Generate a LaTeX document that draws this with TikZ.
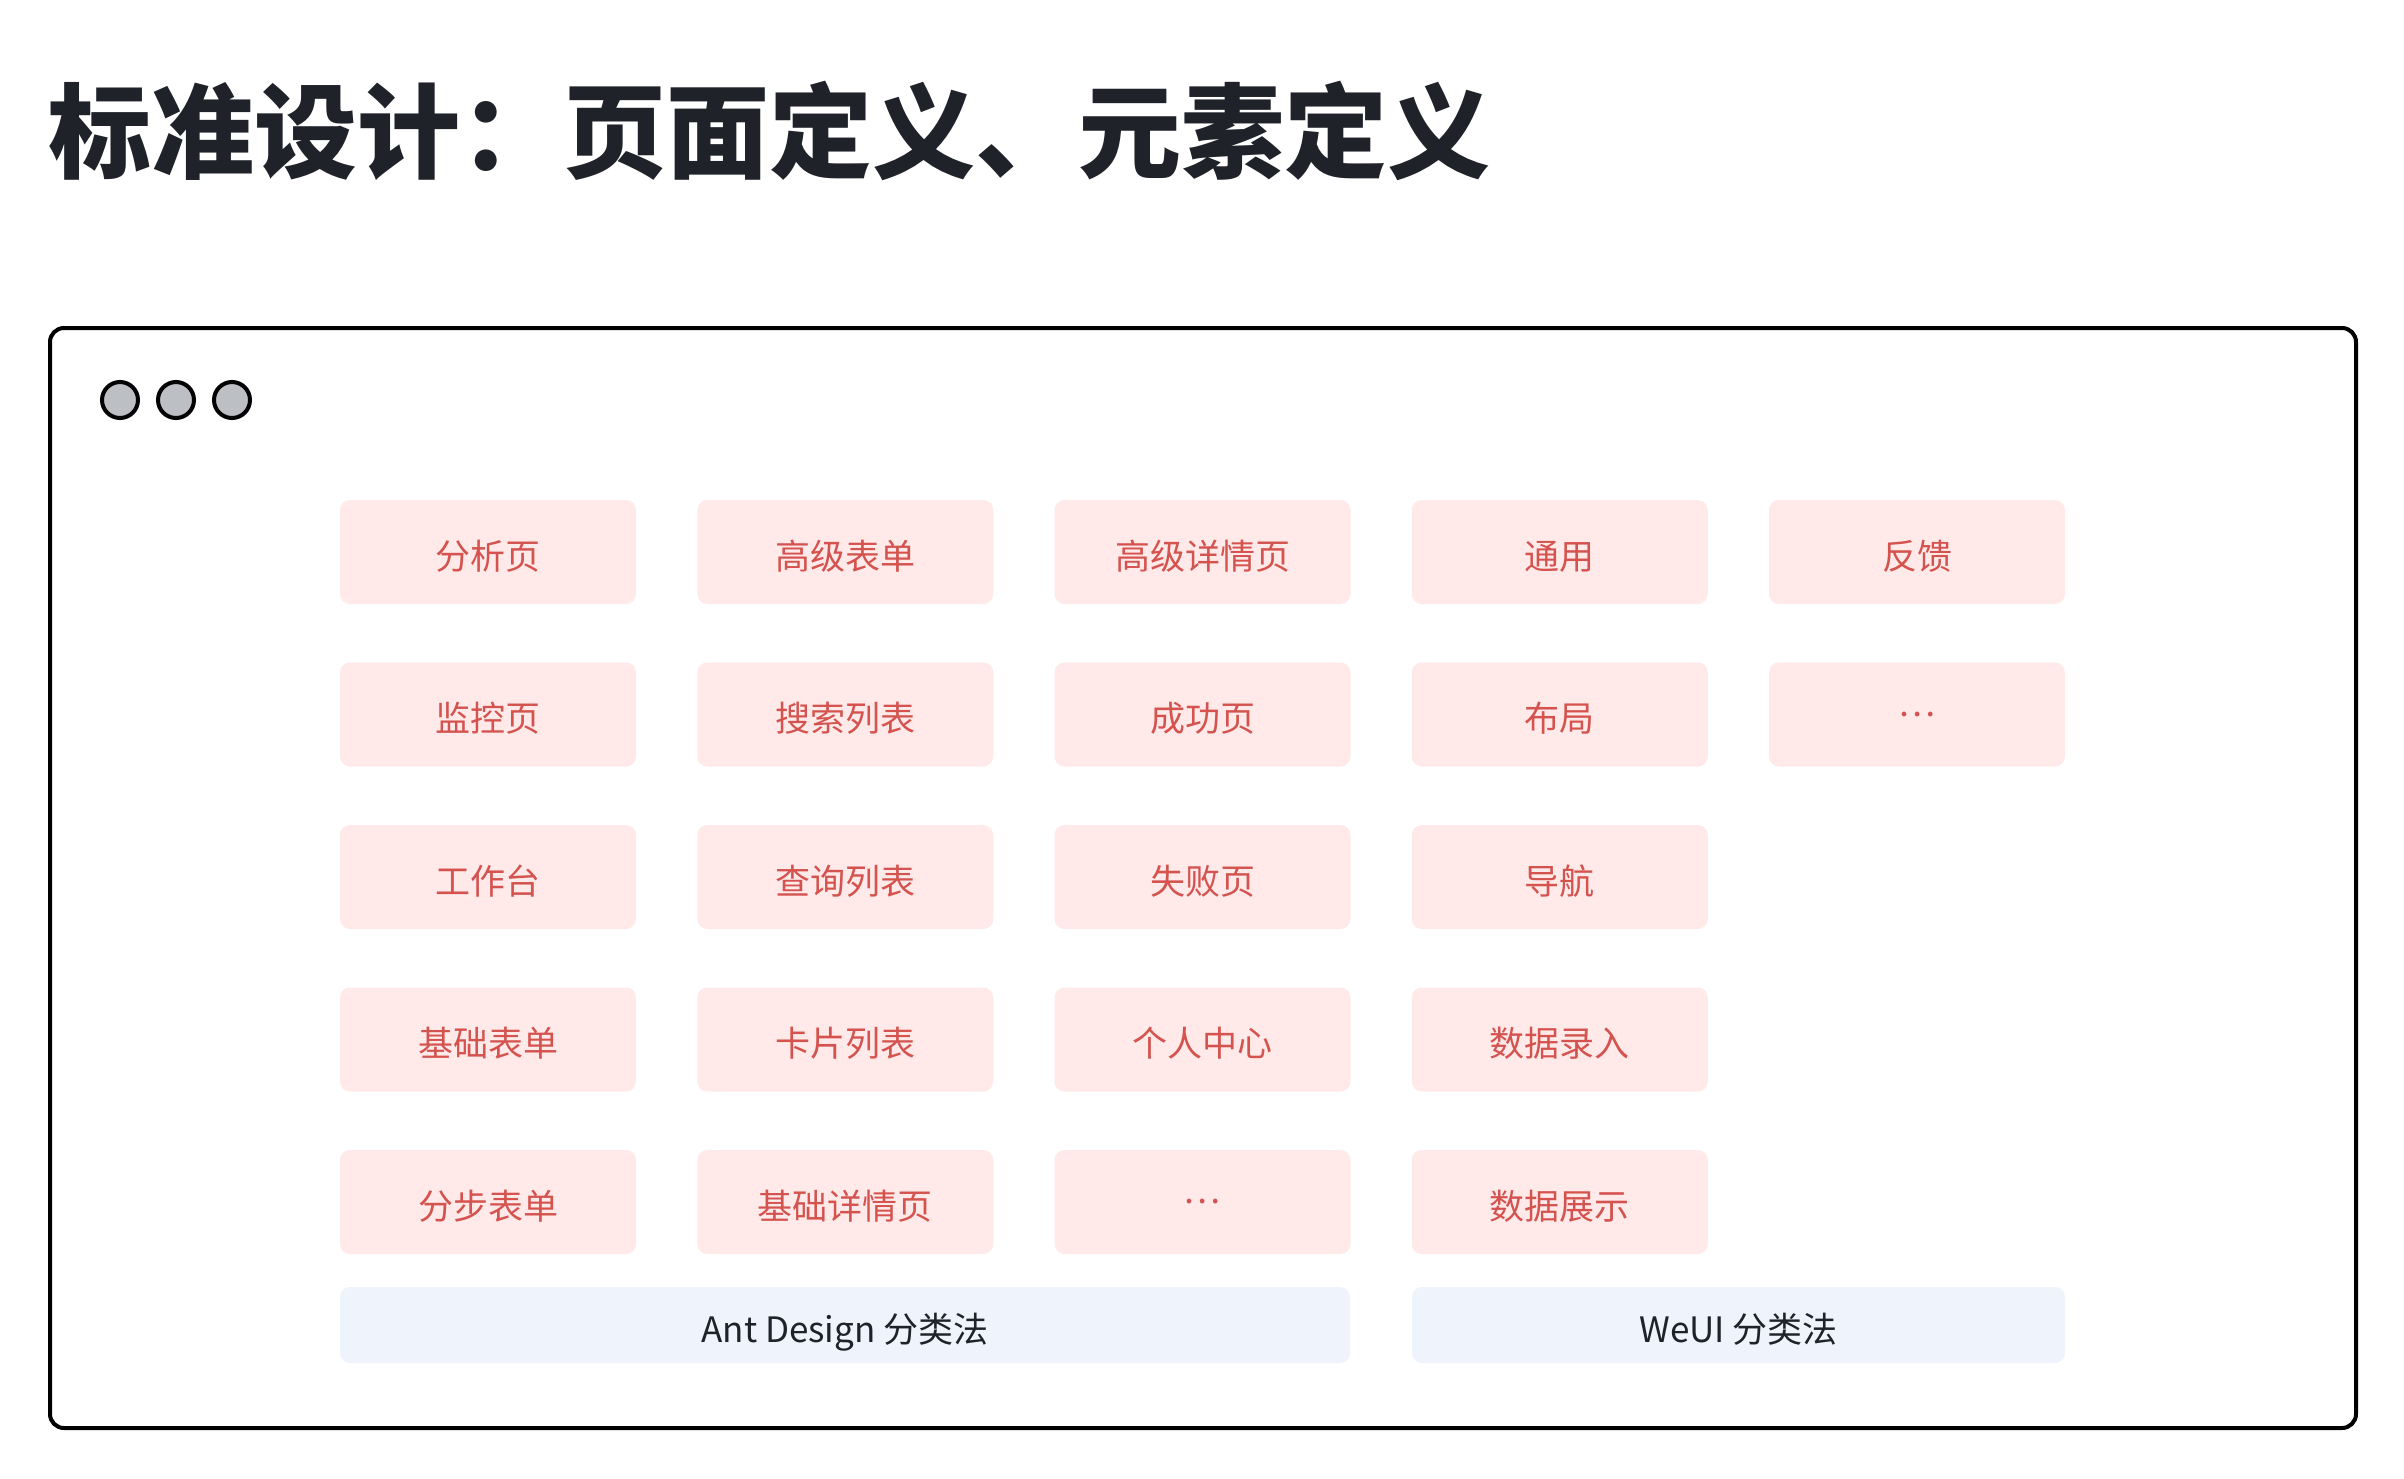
\documentclass[tikz,border=0pt]{standalone}
\usepackage{fontspec}
\setmainfont{Noto Sans CJK SC}
\begin{document}
\begin{tikzpicture}[x=1pt,y=-1pt,
  itembase/.style={fill=itemfill, text=itemtext, rounded corners=10pt, minimum width=296pt, minimum height=104pt, inner sep=0pt, font=\fontsize{35}{42}\selectfont},
  item/.style={itembase, text height=34pt, text depth=0pt},
  dotsitem/.style={itembase},
  legend/.style={fill=legfill, text=titletext, rounded corners=10pt, minimum height=76pt, inner sep=0pt, text height=34pt, text depth=0pt, font=\fontsize{35}{42}\selectfont},
  dot/.style={circle, draw=black, line width=4pt, fill=dotfill, minimum size=36pt, inner sep=0pt}
]
\definecolor{itemfill}{HTML}{FFEAE9}
\definecolor{itemtext}{HTML}{D4534F}
\definecolor{legfill}{HTML}{EEF3FC}
\definecolor{titletext}{HTML}{1F2329}
\definecolor{dotfill}{HTML}{BCC0C4}
\useasboundingbox[fill=white] (0,0) rectangle (2404,1478);
\node[anchor=base west, inner sep=0pt, text=titletext, font=\fontsize{103}{120}\selectfont\bfseries] (title) at (48,170) {标准设计：页面定义、元素定义};
\draw[line width=4pt, rounded corners=14pt] (50,328) rectangle (2356,1428);
\node[dot] (d1) at (120,400) {};
\node[dot] (d2) at (176,400) {};
\node[dot] (d3) at (232,400) {};
% column 1
\node[item] (a1) at (488,552) {分析页};
\node[item] (a2) at (488,714.5) {监控页};
\node[item] (a3) at (488,877) {工作台};
\node[item] (a4) at (488,1039.5) {基础表单};
\node[item] (a5) at (488,1202) {分步表单};
% column 2
\node[item] (b1) at (845.25,552) {高级表单};
\node[item] (b2) at (845.25,714.5) {搜索列表};
\node[item] (b3) at (845.25,877) {查询列表};
\node[item] (b4) at (845.25,1039.5) {卡片列表};
\node[item] (b5) at (845.25,1202) {基础详情页};
% column 3
\node[item] (c1) at (1202.5,552) {高级详情页};
\node[item] (c2) at (1202.5,714.5) {成功页};
\node[item] (c3) at (1202.5,877) {失败页};
\node[item] (c4) at (1202.5,1039.5) {个人中心};
\node[dotsitem] (c5) at (1202.5,1202) {…};
% column 4
\node[item] (e1) at (1559.75,552) {通用};
\node[item] (e2) at (1559.75,714.5) {布局};
\node[item] (e3) at (1559.75,877) {导航};
\node[item] (e4) at (1559.75,1039.5) {数据录入};
\node[item] (e5) at (1559.75,1202) {数据展示};
% column 5
\node[item] (f1) at (1917,552) {反馈};
\node[dotsitem] (f2) at (1917,714.5) {…};
% legends
\node[legend, minimum width=1010pt] (ant) at (845,1325) {Ant Design 分类法};
\node[legend, minimum width=653pt] (weui) at (1738.5,1325) {WeUI 分类法};
\end{tikzpicture}
\end{document}
